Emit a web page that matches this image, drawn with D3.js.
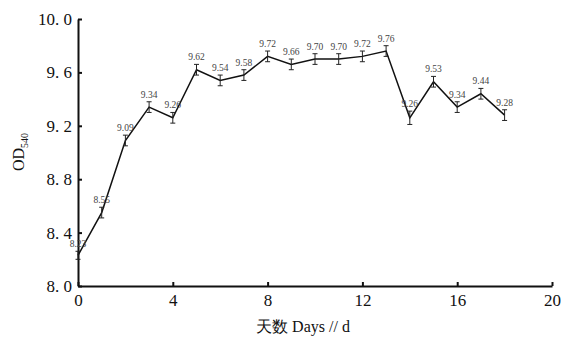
<!DOCTYPE html>
<meta charset="utf-8">
<script src="https://cdn.jsdelivr.net/npm/d3@7"></script>
<style>
body { margin: 0; background: #fff; }
svg text { font-family: "Liberation Serif", "Times New Roman", "DejaVu Serif", serif; }
.tick text { font-size: 17px; fill: #111; }
.lbl { font-size: 9.5px; fill: #444; }
</style>
<body>
<script>

// data
var days = [0, 1, 2, 3, 4, 5, 6, 7, 8, 9, 10, 11, 12, 13, 14, 15, 16, 17, 18];
var od = [8.23, 8.55, 9.09, 9.34, 9.26, 9.62, 9.54, 9.58, 9.72, 9.66, 9.70, 9.70, 9.72, 9.76, 9.26, 9.53, 9.34, 9.44, 9.28];
var err = [0.03, 0.04, 0.04, 0.04, 0.04, 0.04, 0.04, 0.04, 0.04, 0.04, 0.04, 0.04, 0.04, 0.04, 0.05, 0.04, 0.04, 0.04, 0.04];
var xTicks = [0, 4, 8, 12, 16, 20];
var yTicks = [8.0, 8.4, 8.8, 9.2, 9.6, 10.0];

var width = 566, height = 341;
var margin = {left: 78, right: 14, top: 19, bottom: 55};

var svg = d3.select("body").append("svg")
    .attr("width", width)
    .attr("height", height);

var x = d3.scaleLinear().domain([0, 20]).range([margin.left, width - margin.right]);
var y = d3.scaleLinear().domain([8.0, 10.0]).range([height - margin.bottom, margin.top]);

var xAxis = svg.append("g")
    .attr("transform", "translate(0," + y(8.0) + ")")
    .call(d3.axisBottom(x).tickValues(xTicks).tickSize(-4).tickPadding(8).tickSizeOuter(0));

var yAxis = svg.append("g")
    .attr("transform", "translate(" + x(0) + ",0)")
    .call(d3.axisLeft(y).tickValues(yTicks).tickSize(-4).tickPadding(6).tickSizeOuter(0)
      .tickFormat(function(d) { return d3.format(".1f")(d).replace(".", ". "); }));

svg.selectAll("g").attr("font-family", null);
svg.selectAll(".domain").attr("stroke", "#111").attr("stroke-width", 2);
svg.selectAll(".tick line").attr("stroke", "#111").attr("stroke-width", 2);

// the line
var line = d3.line()
    .x(function(d, i) { return x(days[i]); })
    .y(function(d) { return y(d); });

svg.append("path")
    .datum(od)
    .attr("fill", "none")
    .attr("stroke", "#111")
    .attr("stroke-width", 1.5)
    .attr("d", line);

// error bars
var eb = svg.append("g").attr("stroke", "#222").attr("stroke-width", 1);
od.forEach(function(v, i) {
  var cx = x(days[i]);
  eb.append("line").attr("x1", cx).attr("x2", cx).attr("y1", y(v - err[i])).attr("y2", y(v + err[i]));
  eb.append("line").attr("x1", cx - 2.5).attr("x2", cx + 2.5).attr("y1", y(v - err[i])).attr("y2", y(v - err[i]));
  eb.append("line").attr("x1", cx - 2.5).attr("x2", cx + 2.5).attr("y1", y(v + err[i])).attr("y2", y(v + err[i]));
});

// value labels
svg.append("g").selectAll("text")
    .data(od)
    .enter().append("text")
    .attr("class", "lbl")
    .attr("x", function(d, i) { return x(days[i]); })
    .attr("y", function(d, i) { return y(d + err[i]) - 4; })
    .attr("text-anchor", "middle")
    .text(function(d) { return d.toFixed(2); });

// axis titles
var yl = svg.append("text")
    .attr("transform", "translate(24," + 152 + ") rotate(-90)")
    .attr("text-anchor", "middle")
    .style("font-size", "16px")
    .attr("fill", "#111");
yl.append("tspan").text("OD");
yl.append("tspan").attr("dy", 4).style("font-size", "10px").text("540");

svg.append("text")
    .attr("x", 303)
    .attr("y", 332)
    .attr("text-anchor", "middle")
    .style("font-size", "16px")
    .attr("fill", "#111")
    .text("天数 Days // d");

</script>
</body>
